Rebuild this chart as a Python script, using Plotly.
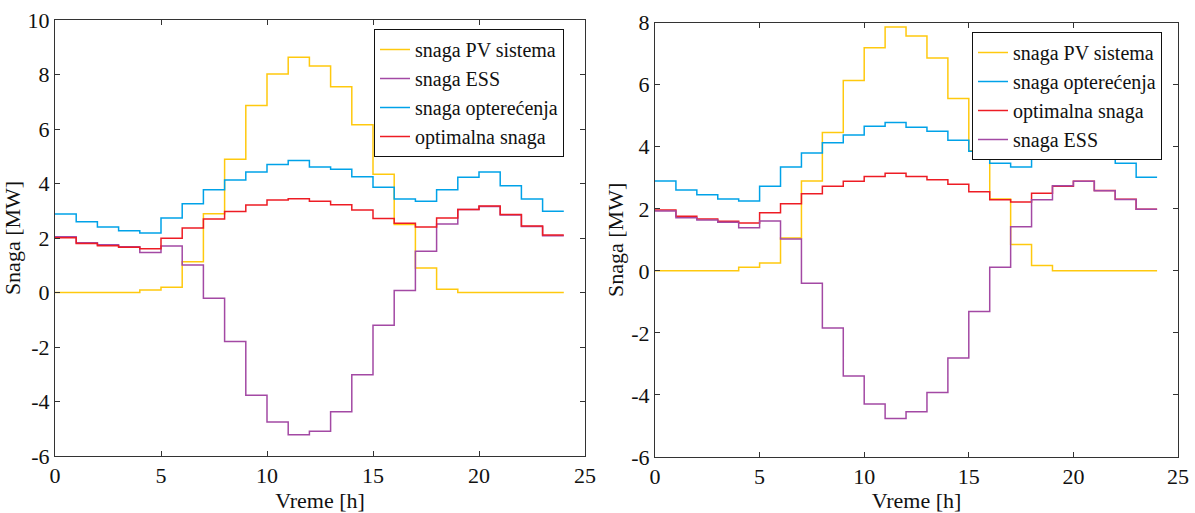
import plotly.graph_objects as go

hours = list(range(25))

# Left panel
pv_L = [0, 0, 0, 0, 0.09, 0.19, 1.13, 2.89, 4.89, 6.86, 8.02, 8.63, 8.31, 7.55, 6.16, 4.34, 2.50, 0.90, 0.12, 0, 0, 0, 0, 0]
ess_L = [2.05, 1.83, 1.75, 1.68, 1.47, 1.71, 1.01, -0.21, -1.80, -3.77, -4.75, -5.22, -5.09, -4.38, -3.02, -1.20, 0.07, 1.51, 2.51, 3.05, 3.16, 2.84, 2.42, 2.08]
load_L = [2.88, 2.60, 2.40, 2.27, 2.18, 2.73, 3.26, 3.77, 4.13, 4.42, 4.70, 4.84, 4.61, 4.52, 4.25, 3.86, 3.43, 3.35, 3.77, 4.23, 4.42, 3.92, 3.43, 2.98]
opt_L = [2.01, 1.80, 1.72, 1.66, 1.61, 1.99, 2.37, 2.70, 2.97, 3.21, 3.39, 3.44, 3.35, 3.22, 3.03, 2.72, 2.54, 2.40, 2.73, 3.05, 3.17, 2.86, 2.44, 2.11]

# Right panel
pv_R = [0, 0, 0, 0, 0.12, 0.25, 1.06, 2.90, 4.46, 6.14, 7.19, 7.86, 7.57, 6.86, 5.56, 3.87, 2.32, 0.85, 0.17, 0, 0, 0, 0, 0]
load_R = [2.90, 2.61, 2.45, 2.32, 2.25, 2.73, 3.35, 3.80, 4.13, 4.38, 4.66, 4.78, 4.63, 4.50, 4.21, 3.86, 3.47, 3.35, 3.76, 4.31, 4.41, 4.01, 3.47, 3.02]
opt_R = [1.96, 1.76, 1.67, 1.60, 1.54, 1.87, 2.16, 2.49, 2.73, 2.89, 3.04, 3.15, 3.04, 2.94, 2.79, 2.55, 2.29, 2.22, 2.50, 2.73, 2.89, 2.59, 2.31, 1.99]
ess_R = [1.93, 1.71, 1.64, 1.57, 1.39, 1.61, 1.03, -0.40, -1.84, -3.39, -4.29, -4.76, -4.54, -3.92, -2.81, -1.31, 0.12, 1.42, 2.29, 2.74, 2.89, 2.58, 2.30, 1.99]

x_ticks = [0, 5, 10, 15, 20, 25]
x_ticklabels = ["0", "5", "10", "15", "20", "25"]
yL_ticks = [-6, -4, -2, 0, 2, 4, 6, 8, 10]
yL_ticklabels = ["-6", "-4", "-2", "0", "2", "4", "6", "8", "10"]
yR_ticks = [-6, -4, -2, 0, 2, 4, 6, 8]
yR_ticklabels = ["-6", "-4", "-2", "0", "2", "4", "6", "8"]

names = {"pv": "snaga PV sistema", "ess": "snaga ESS", "load": "snaga opterećenja", "opt": "optimalna snaga"}
colors = {"pv": "#FFC90E", "ess": "#A349A4", "load": "#00A2E8", "opt": "#ED1C24"}

FONT = "'Liberation Serif', 'Times New Roman', Times, 'DejaVu Serif', serif"

def stairs(v):
    return v + [v[-1]]

fig = go.Figure()

left = [("pv", pv_L), ("ess", ess_L), ("load", load_L), ("opt", opt_L)]
right = [("pv", pv_R), ("load", load_R), ("opt", opt_R), ("ess", ess_R)]

for key, vals in left:
    fig.add_trace(go.Scatter(x=hours, y=stairs(vals), mode="lines", line_shape="hv",
                             line=dict(color=colors[key], width=1.5), name=names[key],
                             xaxis="x", yaxis="y", legend="legend"))
for key, vals in right:
    fig.add_trace(go.Scatter(x=hours, y=stairs(vals), mode="lines", line_shape="hv",
                             line=dict(color=colors[key], width=1.5), name=names[key],
                             xaxis="x2", yaxis="y2", legend="legend2"))

W, H = 1195, 513


def fx(px):
    return px / W


def fy(py):
    return 1 - py / H


axis_common = dict(showline=True, linecolor="#333333", linewidth=1, mirror="allticks",
                   ticks="inside", ticklen=5, tickcolor="#333333", showgrid=False, zeroline=False,
                   automargin=False, ticklabeloverflow="allow",
                   tickfont=dict(family=FONT, size=22, color="#111111"))

title_font = dict(family=FONT, size=22, color="#111111")

legend_common = dict(font=dict(family=FONT, size=20, color="#111111"), bgcolor="white",
                     bordercolor="#111111", borderwidth=1, itemwidth=30,
                     tracegroupgap=0, xanchor="left", yanchor="top")

fig.update_layout(
    width=W, height=H,
    margin=dict(l=0, r=0, t=0, b=0),
    plot_bgcolor="white", paper_bgcolor="white",
    showlegend=True,
    xaxis=dict(domain=[fx(55), fx(585)], range=[0, 25], tickvals=x_ticks, ticktext=x_ticklabels, anchor="y",
               title=dict(text="Vreme [h]", font=title_font, standoff=0),
               **axis_common),
    yaxis=dict(domain=[fy(456), fy(20)], range=[-6, 10], tickvals=yL_ticks, ticktext=yL_ticklabels, anchor="x",
               title=dict(text="Snaga [MW]", font=title_font, standoff=1),
               **axis_common),
    xaxis2=dict(domain=[fx(655), fx(1178)], range=[0, 25], tickvals=x_ticks, ticktext=x_ticklabels, anchor="y2",
                title=dict(text="Vreme [h]", font=title_font, standoff=0),
                **axis_common),
    yaxis2=dict(domain=[fy(457), fy(22.7)], range=[-6, 8], tickvals=yR_ticks, ticktext=yR_ticklabels, anchor="x2",
                title=dict(text="Snaga [MW]", font=title_font, standoff=1),
                **axis_common),
    legend=dict(x=fx(374), y=fy(29), **legend_common),
    legend2=dict(x=fx(972), y=fy(32), **legend_common),
)

fig.write_html("out.html", config={"displayModeBar": False},
               post_script="document.body.style.margin='0';document.body.style.overflow='hidden';")
